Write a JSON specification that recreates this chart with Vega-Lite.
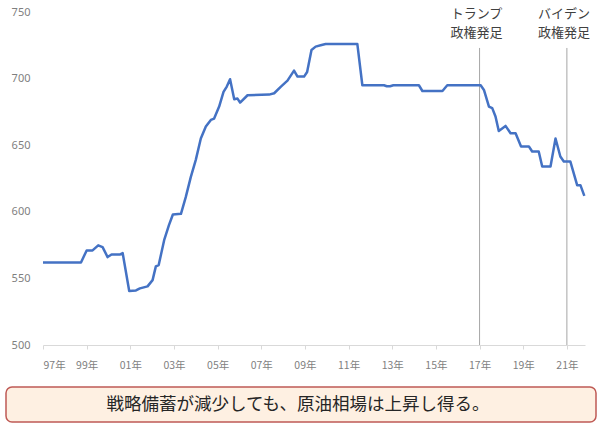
{
  "$schema": "https://vega.github.io/schema/vega-lite/v6.json",
  "background": "white",
  "padding": {"left": 5, "top": 6, "right": 5, "bottom": 4},
  "spacing": 15,
  "config": {"font": "Noto Sans CJK JP", "view": {"stroke": null}},
  "datasets": {
    "spr": [
      {"year": 1997.0, "value": 562}, {"year": 1998.74, "value": 562}, {"year": 1999.0, "value": 571},
      {"year": 1999.27, "value": 571}, {"year": 1999.53, "value": 574.8}, {"year": 1999.73, "value": 573.5},
      {"year": 1999.96, "value": 566}, {"year": 2000.14, "value": 568}, {"year": 2000.54, "value": 568},
      {"year": 2000.65, "value": 569}, {"year": 2000.95, "value": 540.5}, {"year": 2001.26, "value": 541},
      {"year": 2001.44, "value": 542.5}, {"year": 2001.79, "value": 544}, {"year": 2002.02, "value": 548.7},
      {"year": 2002.17, "value": 559}, {"year": 2002.3, "value": 560}, {"year": 2002.55, "value": 578.7},
      {"year": 2002.77, "value": 590}, {"year": 2002.95, "value": 598}, {"year": 2003.32, "value": 598.5},
      {"year": 2003.54, "value": 611}, {"year": 2003.77, "value": 626}, {"year": 2004.0, "value": 639},
      {"year": 2004.23, "value": 655}, {"year": 2004.46, "value": 664}, {"year": 2004.69, "value": 669},
      {"year": 2004.84, "value": 670}, {"year": 2005.07, "value": 679}, {"year": 2005.27, "value": 690},
      {"year": 2005.42, "value": 694}, {"year": 2005.57, "value": 699.5}, {"year": 2005.76, "value": 684.5},
      {"year": 2005.91, "value": 685}, {"year": 2006.03, "value": 682}, {"year": 2006.37, "value": 687.5},
      {"year": 2007.36, "value": 688}, {"year": 2007.59, "value": 689}, {"year": 2007.9, "value": 694},
      {"year": 2008.2, "value": 698.5}, {"year": 2008.5, "value": 706}, {"year": 2008.66, "value": 701.5},
      {"year": 2008.96, "value": 701.5}, {"year": 2009.1, "value": 705}, {"year": 2009.3, "value": 721.5},
      {"year": 2009.49, "value": 724}, {"year": 2009.72, "value": 725}, {"year": 2009.95, "value": 726},
      {"year": 2011.4, "value": 726}, {"year": 2011.63, "value": 695}, {"year": 2012.62, "value": 695},
      {"year": 2012.75, "value": 694.3}, {"year": 2012.9, "value": 694.3}, {"year": 2013.05, "value": 695},
      {"year": 2014.22, "value": 695}, {"year": 2014.38, "value": 690.7}, {"year": 2015.3, "value": 690.7},
      {"year": 2015.52, "value": 695}, {"year": 2017.05, "value": 695}, {"year": 2017.2, "value": 691.5},
      {"year": 2017.43, "value": 679}, {"year": 2017.58, "value": 677.8}, {"year": 2017.73, "value": 671.5},
      {"year": 2017.88, "value": 660.7}, {"year": 2018.19, "value": 664.5}, {"year": 2018.42, "value": 659},
      {"year": 2018.65, "value": 659}, {"year": 2018.9, "value": 649}, {"year": 2019.26, "value": 649},
      {"year": 2019.41, "value": 645.3}, {"year": 2019.71, "value": 645.3}, {"year": 2019.87, "value": 634},
      {"year": 2020.25, "value": 634}, {"year": 2020.48, "value": 655}, {"year": 2020.7, "value": 641.5},
      {"year": 2020.86, "value": 637.7}, {"year": 2021.16, "value": 637.7}, {"year": 2021.47, "value": 620},
      {"year": 2021.62, "value": 620}, {"year": 2021.8, "value": 612}
    ],
    "events": [
      {"year": 2017.0, "top": 723, "bottom": 500, "line1": "トランプ", "line2": "政権発足", "y1": 748.3, "y2": 734.6},
      {"year": 2021.0, "top": 723, "bottom": 500, "line1": "バイデン", "line2": "政権発足", "y1": 748.3, "y2": 734.6}
    ],
    "note": [{"label": "戦略備蓄が減少しても、原油相場は上昇し得る。"}]
  },
  "vconcat": [
    {
      "width": 590,
      "height": 333,
      "layer": [
        {
          "data": {"name": "events"},
          "mark": {"type": "rule", "color": "#A6A6A6", "strokeWidth": 1},
          "encoding": {
            "x": {"field": "year", "type": "quantitative"},
            "y": {"field": "top", "type": "quantitative"},
            "y2": {"field": "bottom"}
          }
        },
        {
          "data": {"name": "spr"},
          "mark": {"type": "line", "color": "#4472C4", "strokeWidth": 2.5, "strokeJoin": "round"},
          "encoding": {
            "x": {
              "field": "year", "type": "quantitative",
              "scale": {"domain": [1997, 2021.83], "range": [37, 579], "nice": false, "zero": false},
              "axis": {
                "title": null,
                "values": [1997, 1999, 2001, 2003, 2005, 2007, 2009, 2011, 2013, 2015, 2017, 2019, 2021],
                "labelExpr": "substring(toString(datum.value), 2) + '年'",
                "grid": false,
                "domainColor": "#D9D9D9",
                "tickColor": "#D9D9D9",
                "tickSize": 4,
                "labelPadding": 11,
                "labelFontSize": 10.5,
                "labelColor": "#7F7F7F",
                "labelFont": "Noto Sans CJK JP"
              }
            },
            "y": {
              "field": "value", "type": "quantitative",
              "scale": {"domain": [500, 750], "nice": false, "zero": false},
              "axis": {
                "title": null,
                "values": [500, 550, 600, 650, 700, 750],
                "grid": false,
                "domain": false,
                "ticks": false,
                "tickSize": 0,
                "offset": -37,
                "labelPadding": 13,
                "labelFontSize": 11,
                "labelColor": "#7F7F7F",
                "labelFont": "Noto Sans"
              }
            }
          }
        },
        {
          "data": {"name": "events"},
          "mark": {"type": "text", "fontSize": 13, "color": "#404040", "baseline": "middle", "align": "center", "dx": -3},
          "encoding": {
            "x": {"field": "year", "type": "quantitative"},
            "y": {"field": "y1", "type": "quantitative"},
            "text": {"field": "line1"}
          }
        },
        {
          "data": {"name": "events"},
          "mark": {"type": "text", "fontSize": 13, "color": "#404040", "baseline": "middle", "align": "center", "dx": -3},
          "encoding": {
            "x": {"field": "year", "type": "quantitative"},
            "y": {"field": "y2", "type": "quantitative"},
            "text": {"field": "line2"}
          }
        }
      ]
    },
    {
      "width": 590,
      "height": 35,
      "view": {"fill": "#FEF0E2", "stroke": "#BF5A55", "strokeWidth": 1.5, "cornerRadius": 6},
      "data": {"name": "note"},
      "mark": {"type": "text", "fontSize": 17.5, "color": "#262626", "baseline": "middle", "align": "center", "dx": -3},
      "encoding": {"text": {"field": "label"}}
    }
  ]
}
